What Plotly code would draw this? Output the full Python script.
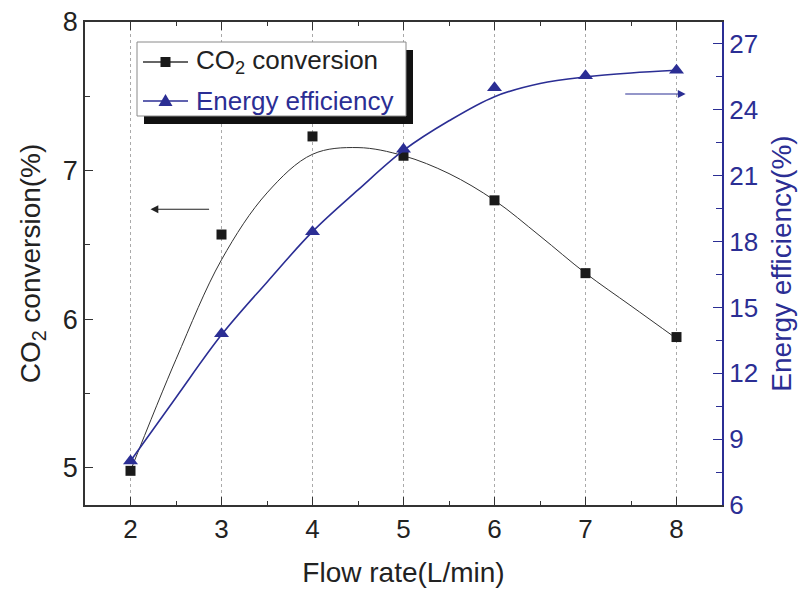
import plotly.graph_objects as go

# ---- data ----
flow = [2, 3, 4, 5, 6, 7, 8]
co2_conv = [4.98, 6.57, 7.23, 7.10, 6.80, 6.31, 5.88]
energy_eff = [8.0, 13.8, 18.45, 22.2, 25.0, 25.55, 25.8]

# fitted (smoothed) curves as drawn in the reference
fit_x = [2, 2.5, 3, 3.5, 4, 4.5, 5, 5.5, 6, 6.5, 7, 7.5, 8]
co2_fit = [4.98, 5.73, 6.40, 6.85, 7.11, 7.155, 7.10, 6.98, 6.80, 6.56, 6.31, 6.09, 5.87]
eff_fit = [8.0, 10.9, 13.75, 16.15, 18.45, 20.35, 22.15, 23.5, 24.6, 25.2, 25.5, 25.68, 25.8]

x_ticks = [2, 3, 4, 5, 6, 7, 8]
y1_ticks = [5, 6, 7, 8]
y2_ticks = [6, 9, 12, 15, 18, 21, 24, 27]

legend_names = ["CO<sub>2</sub> conversion", "Energy efficiency"]

BLUE = "#2B2E94"
BLACK = "#1a1a1a"
FONT = "Liberation Sans, Arial, sans-serif"

# plot-area geometry (pixels)
W, H = 802, 591
ML, MR, MT, MB = 85, 80, 22, 86
PW, PH = W - ML - MR, H - MT - MB


def px(x):
    return (x - ML) / PW


def py(y):
    return (H - MB - y) / PH


fig = go.Figure()

fig.add_trace(go.Scatter(x=fit_x, y=co2_fit, mode="lines", line=dict(color="#333333", width=1, shape="spline"),
                         showlegend=False, hoverinfo="skip"))
fig.add_trace(go.Scatter(x=flow, y=co2_conv, mode="markers", name=legend_names[0],
                         marker=dict(symbol="square", size=10, color=BLACK), showlegend=False))
fig.add_trace(go.Scatter(x=fit_x, y=eff_fit, mode="lines", line=dict(color=BLUE, width=1.6, shape="spline"),
                         yaxis="y2", showlegend=False, hoverinfo="skip"))
fig.add_trace(go.Scatter(x=flow, y=energy_eff, mode="markers", name=legend_names[1],
                         marker=dict(symbol="triangle-up", size=13, color=BLUE), yaxis="y2", showlegend=False))

# arrows pointing to the respective axes
fig.add_annotation(x=2.22, y=6.74, ax=2.88, ay=6.74, xref="x", yref="y", axref="x", ayref="y",
                   text="", showarrow=True, arrowhead=2, arrowsize=1.3, arrowwidth=1.2, arrowcolor="#222222")
fig.add_annotation(x=8.10, y=24.72, ax=7.42, ay=24.72, xref="x", yref="y2", axref="x", ayref="y2",
                   text="", showarrow=True, arrowhead=2, arrowsize=1.3, arrowwidth=1.2, arrowcolor=BLUE)

# ---- custom legend box with drop shadow ----
fig.add_shape(type="rect", xref="paper", yref="paper", layer="above",
              x0=px(144), x1=px(413), y0=py(124), y1=py(50), fillcolor="#111111", line=dict(width=0))
fig.add_shape(type="rect", xref="paper", yref="paper", layer="above",
              x0=px(137), x1=px(406), y0=py(116), y1=py(42), fillcolor="white",
              line=dict(color="#8a8a8a", width=1))
rows = [(62, "#333333", BLACK, "square"), (101, BLUE, BLUE, "triangle")]
for (ry, lcol, mcol, kind), name in zip(rows, legend_names):
    fig.add_shape(type="line", xref="paper", yref="paper", layer="above",
                  x0=px(143), x1=px(188), y0=py(ry), y1=py(ry), line=dict(color=lcol, width=1.3))
    if kind == "square":
        fig.add_shape(type="rect", xref="paper", yref="paper", layer="above",
                      xsizemode="pixel", ysizemode="pixel", xanchor=px(165.5), yanchor=py(ry),
                      x0=-5, x1=5, y0=-5, y1=5, fillcolor=mcol, line=dict(width=0))
    else:
        fig.add_shape(type="path", xref="paper", yref="paper", layer="above",
                      xsizemode="pixel", ysizemode="pixel", xanchor=px(165.5), yanchor=py(ry),
                      path="M -7 -5 L 7 -5 L 0 7 Z", fillcolor=mcol, line=dict(width=0))
    fig.add_annotation(x=px(194), y=py(ry), xref="paper", yref="paper", xanchor="left", yanchor="middle",
                       text=name, showarrow=False, font=dict(size=26, color=mcol if kind == "triangle" else "#222222"))

fig.update_layout(
    width=W, height=H,
    margin=dict(l=ML, r=MR, t=MT, b=MB, autoexpand=False),
    paper_bgcolor="white", plot_bgcolor="rgba(0,0,0,0)",
    font=dict(family=FONT, size=26, color="#222222"),
    showlegend=False,
    xaxis=dict(range=[1.5, 8.5], tickvals=x_ticks, ticks="inside", ticklen=8, tickcolor="#333",
               showline=True, linecolor="#333", linewidth=1.5, mirror="ticks", automargin=False,
               showgrid=True, gridcolor="#aaaaaa", griddash="dot", gridwidth=1,
               minor=dict(dtick=0.5, ticks="inside", ticklen=4, tickcolor="#333", showgrid=False),
               zeroline=False, tickfont=dict(size=26),
               title=dict(text="Flow rate(L/min)", font=dict(size=28), standoff=19)),
    yaxis=dict(range=[4.75, 8], tickvals=y1_ticks, ticks="inside", ticklen=8, tickcolor="#333",
               showline=True, linecolor="#333", linewidth=1.5, showgrid=False, zeroline=False,
               automargin=False,
               minor=dict(dtick=0.5, ticks="inside", ticklen=5, tickcolor="#333"),
               tickfont=dict(size=27),
               title=dict(text="CO<sub>2</sub> conversion(%)", font=dict(size=28), standoff=14)),
    yaxis2=dict(range=[6, 28], tickvals=y2_ticks, overlaying="y", side="right", ticks="inside", ticklen=9,
                tickcolor=BLUE, showline=True, linecolor=BLUE, linewidth=2, showgrid=False, zeroline=False,
                automargin=False, tickfont=dict(color=BLUE, size=26),
                minor=dict(dtick=1.5, ticks="inside", ticklen=6, tickcolor=BLUE),
                title=dict(text="Energy efficiency(%)", font=dict(size=28, color=BLUE), standoff=14)),
)

fig.write_html("out.html")
